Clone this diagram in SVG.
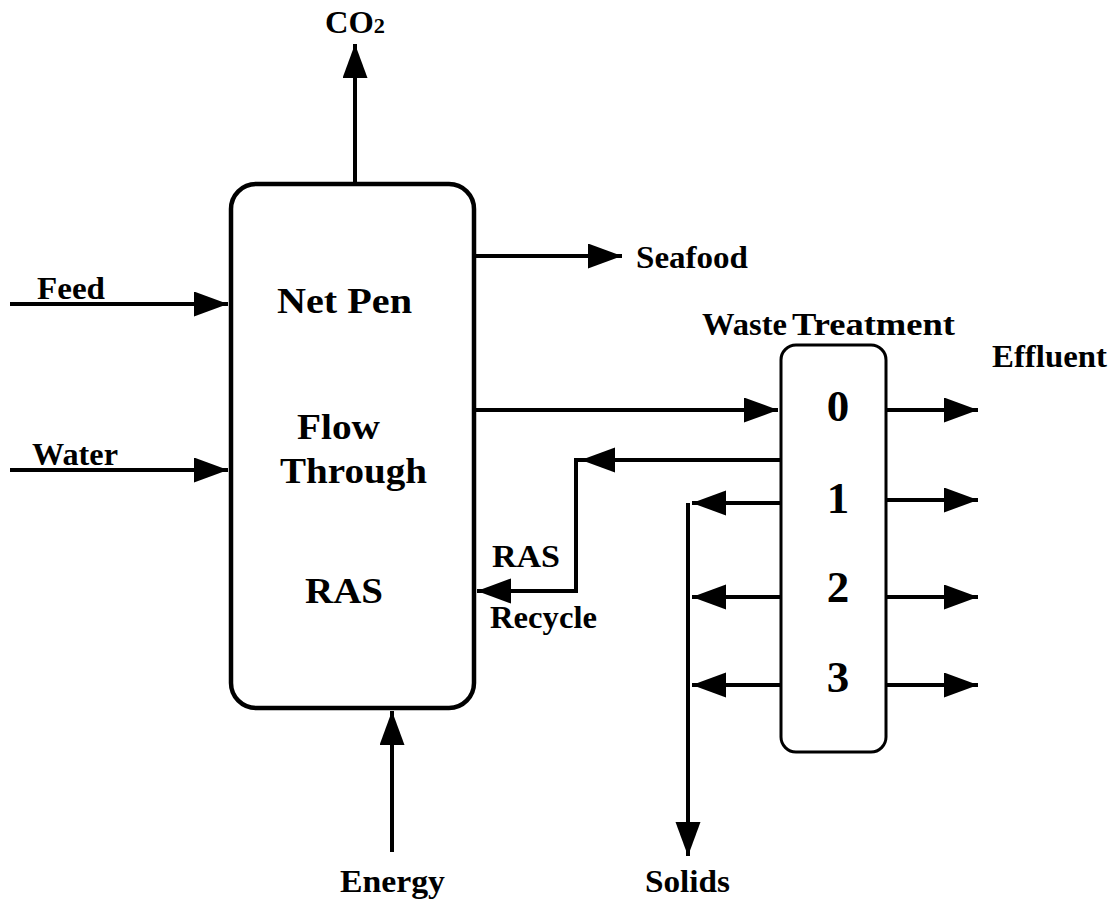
<svg xmlns="http://www.w3.org/2000/svg" width="1115" height="900" viewBox="0 0 1115 900">
<style>
text{font-family:"Liberation Serif","Times New Roman",serif;font-weight:bold;fill:#000}
.lbl{font-size:32px}
.big{font-size:35px}
.num{font-size:45px}
.box{fill:#fff;stroke:#000;stroke-width:4.5}
.ln{fill:none;stroke:#000;stroke-width:4}
</style>
<defs>
<marker id="ah" markerUnits="userSpaceOnUse" markerWidth="36" markerHeight="26" refX="34" refY="12.5" orient="auto">
<path d="M0,0 L34,12.5 L0,25 Z" fill="#000"/>
</marker>
</defs>
<rect width="1115" height="900" fill="#fff"/>
<g id="netpen">
<rect class="box" x="231" y="184" width="243" height="524" rx="25"/>
<text class="big" x="277" y="313" textLength="135" lengthAdjust="spacingAndGlyphs">Net Pen</text>
<text class="big" x="297" y="439" textLength="83" lengthAdjust="spacingAndGlyphs">Flow</text>
<text class="big" x="280" y="483" textLength="147" lengthAdjust="spacingAndGlyphs">Through</text>
<text class="big" x="305" y="603" textLength="78" lengthAdjust="spacingAndGlyphs">RAS</text>
</g>
<g id="waste">
<rect class="box" x="781" y="345" width="105" height="407" rx="15" style="stroke-width:3"/>
<text class="num" x="838" y="421" text-anchor="middle">0</text>
<text class="num" x="838" y="513" text-anchor="middle">1</text>
<text class="num" x="838" y="602" text-anchor="middle">2</text>
<text class="num" x="838" y="692" text-anchor="middle">3</text>
</g>
<g id="connectors">
<line class="ln" x1="355" y1="184" x2="355" y2="44" marker-end="url(#ah)"/>
<line class="ln" x1="10" y1="304" x2="228" y2="304" marker-end="url(#ah)"/>
<line class="ln" x1="10" y1="470" x2="228" y2="470" marker-end="url(#ah)"/>
<line class="ln" x1="474" y1="256" x2="622" y2="256" marker-end="url(#ah)"/>
<line class="ln" x1="474" y1="410" x2="778" y2="410" marker-end="url(#ah)"/>
<line class="ln" x1="781" y1="460" x2="581" y2="460" marker-end="url(#ah)"/>
<polyline class="ln" points="581,460 576,460 576,591 477,591" marker-end="url(#ah)"/>
<line class="ln" x1="781" y1="503" x2="692" y2="503" marker-end="url(#ah)"/>
<line class="ln" x1="688" y1="503" x2="688" y2="856" marker-end="url(#ah)"/>
<line class="ln" x1="781" y1="597" x2="692" y2="597" marker-end="url(#ah)"/>
<line class="ln" x1="781" y1="685" x2="692" y2="685" marker-end="url(#ah)"/>
<line class="ln" x1="886" y1="410" x2="978" y2="410" marker-end="url(#ah)"/>
<line class="ln" x1="886" y1="500" x2="978" y2="500" marker-end="url(#ah)"/>
<line class="ln" x1="886" y1="597" x2="978" y2="597" marker-end="url(#ah)"/>
<line class="ln" x1="886" y1="685" x2="978" y2="685" marker-end="url(#ah)"/>
<line class="ln" x1="392" y1="852" x2="392" y2="711" marker-end="url(#ah)"/>
</g>
<g id="labels">
<text class="lbl" x="325" y="33" textLength="60" lengthAdjust="spacingAndGlyphs">CO<tspan font-size="22">2</tspan></text>
<text class="lbl" x="37" y="299" textLength="68" lengthAdjust="spacingAndGlyphs">Feed</text>
<text class="lbl" x="32" y="465" textLength="86" lengthAdjust="spacingAndGlyphs">Water</text>
<text class="lbl" x="636" y="268" textLength="112" lengthAdjust="spacingAndGlyphs">Seafood</text>
<text class="lbl" x="702" y="335" textLength="85" lengthAdjust="spacingAndGlyphs">Waste</text>
<text class="lbl" x="792" y="335" textLength="163" lengthAdjust="spacingAndGlyphs">Treatment</text>
<text class="lbl" x="992" y="367" textLength="115" lengthAdjust="spacingAndGlyphs">Effluent</text>
<text class="lbl" x="492" y="567" textLength="68" lengthAdjust="spacingAndGlyphs">RAS</text>
<text class="lbl" x="490" y="628" textLength="107" lengthAdjust="spacingAndGlyphs">Recycle</text>
<text class="lbl" x="340" y="892" textLength="105" lengthAdjust="spacingAndGlyphs">Energy</text>
<text class="lbl" x="645" y="892" textLength="85" lengthAdjust="spacingAndGlyphs">Solids</text>
</g>
</svg>
